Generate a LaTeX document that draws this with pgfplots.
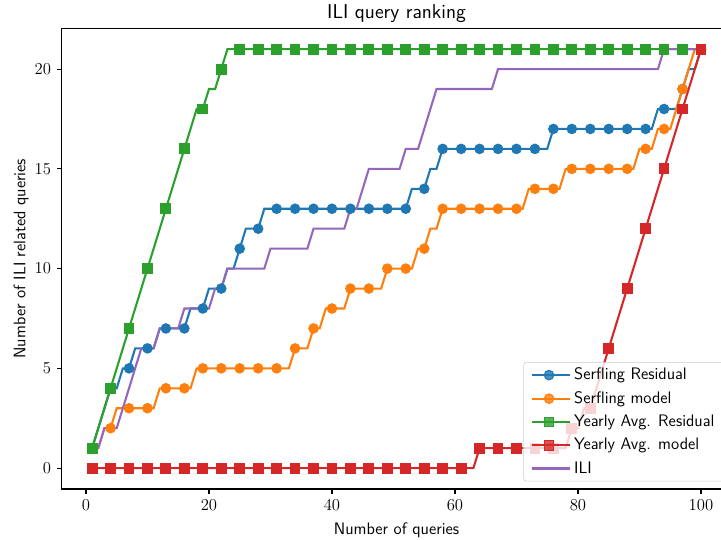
\documentclass[12pt,border=0pt]{standalone}
\usepackage{pgfplots}
\usepackage{pgfplotstable}
\pgfplotsset{compat=1.18}

\definecolor{tabblue}{HTML}{1F77B4}
\definecolor{taborange}{HTML}{FF7F0E}
\definecolor{tabgreen}{HTML}{2CA02C}
\definecolor{tabred}{HTML}{D62728}
\definecolor{tabpurple}{HTML}{9467BD}

% rank, Serfling residual, Serfling model, yearly avg residual, yearly avg model, ILI
\pgfplotstableread{
x sr sm yr ym ili
1 1 1 1 0 1
2 2 1 2 0 1
3 3 2 3 0 2
4 4 2 4 0 2
5 4 3 5 0 2
6 5 3 6 0 3
7 5 3 7 0 4
8 6 3 8 0 5
9 6 3 9 0 6
10 6 3 10 0 6
11 6 3 11 0 6
12 7 4 12 0 7
13 7 4 13 0 7
14 7 4 14 0 7
15 7 4 15 0 7
16 7 4 16 0 8
17 8 4 17 0 8
18 8 5 18 0 8
19 8 5 18 0 8
20 9 5 19 0 8
21 9 5 19 0 9
22 9 5 20 0 9
23 10 5 21 0 10
24 10 5 21 0 10
25 11 5 21 0 10
26 12 5 21 0 10
27 12 5 21 0 10
28 12 5 21 0 10
29 13 5 21 0 10
30 13 5 21 0 11
31 13 5 21 0 11
32 13 5 21 0 11
33 13 5 21 0 11
34 13 6 21 0 11
35 13 6 21 0 11
36 13 6 21 0 11
37 13 7 21 0 12
38 13 7 21 0 12
39 13 8 21 0 12
40 13 8 21 0 12
41 13 8 21 0 12
42 13 8 21 0 12
43 13 9 21 0 13
44 13 9 21 0 13
45 13 9 21 0 14
46 13 9 21 0 15
47 13 9 21 0 15
48 13 9 21 0 15
49 13 10 21 0 15
50 13 10 21 0 15
51 13 10 21 0 15
52 13 10 21 0 16
53 14 10 21 0 16
54 14 11 21 0 16
55 14 11 21 0 17
56 15 12 21 0 18
57 15 12 21 0 19
58 16 13 21 0 19
59 16 13 21 0 19
60 16 13 21 0 19
61 16 13 21 0 19
62 16 13 21 0 19
63 16 13 21 0 19
64 16 13 21 1 19
65 16 13 21 1 19
66 16 13 21 1 19
67 16 13 21 1 20
68 16 13 21 1 20
69 16 13 21 1 20
70 16 13 21 1 20
71 16 13 21 1 20
72 16 14 21 1 20
73 16 14 21 1 20
74 16 14 21 1 20
75 16 14 21 1 20
76 17 14 21 1 20
77 17 14 21 1 20
78 17 15 21 1 20
79 17 15 21 2 20
80 17 15 21 2 20
81 17 15 21 3 20
82 17 15 21 3 20
83 17 15 21 4 20
84 17 15 21 5 20
85 17 15 21 6 20
86 17 15 21 7 20
87 17 15 21 8 20
88 17 15 21 9 20
89 17 15 21 10 20
90 17 16 21 11 20
91 17 16 21 12 20
92 17 16 21 13 20
93 18 17 21 14 20
94 18 17 21 15 21
95 18 17 21 16 21
96 18 18 21 17 21
97 19 19 21 18 21
98 20 20 21 19 21
99 20 21 21 20 21
100 21 21 21 21 21
}\ranking

\begin{document}
\begin{tikzpicture}
\begin{axis}[
    scale only axis,
    width=482.2pt, height=331.8pt,
    xmin=-3.95, xmax=104.95,
    ymin=-1.05, ymax=22.05,
    xtick={0,20,...,100},
    ytick={0,5,...,20},
    tick align=outside,
    tick pos=left,
    major tick length=3.5pt,
    tick style={black, line width=0.8pt},
    axis line style={line width=0.8pt},
    title={\sffamily\large ILI query ranking},
    title style={yshift=-6pt},
    xlabel={\sffamily Number of queries},
    ylabel={\sffamily Number of ILI related queries},
    xlabel style={yshift=-1pt},
    ylabel style={yshift=-3.8pt},
    legend cell align=left,
    legend style={at={(1,0)}, anchor=south east, xshift=-5pt, yshift=5.5pt,
        font=\sffamily, draw=black!20, rounded corners=2pt,
        fill=white, fill opacity=0.8, text opacity=1, row sep=2.6pt,
        inner xsep=5pt, inner ysep=2pt},
    legend image code/.code={
        \path (0cm,0cm) -- (0.98cm,0cm);
        \draw[mark repeat=2, mark phase=2] plot coordinates {(0cm,0cm) (0.44cm,0cm) (0.88cm,0cm)};
    },
    every axis plot/.append style={line width=1.5pt, mark repeat=3, mark phase=1},
]
\addplot[tabblue, mark=*, mark size=3.4pt, mark options={line width=0.8pt}] table[x=x, y=sr] {\ranking};
\addlegendentry{Serfling Residual}
\addplot[taborange, mark=*, mark size=3.4pt, mark options={line width=0.8pt}] table[x=x, y=sm] {\ranking};
\addlegendentry{Serfling model}
\addplot[tabgreen, mark=square*, mark size=3.5pt, mark options={line width=0.8pt}] table[x=x, y=yr] {\ranking};
\addlegendentry{Yearly Avg. Residual}
\addplot[tabred, mark=square*, mark size=3.5pt, mark options={line width=0.8pt}] table[x=x, y=ym] {\ranking};
\addlegendentry{Yearly Avg. model}
\addplot[tabpurple, no marks] table[x=x, y=ili] {\ranking};
\addlegendentry{ILI}
\end{axis}
\pgfresetboundingbox
\path[use as bounding box] ([xshift=-44.4pt, yshift=-36pt]current axis.south west)
    rectangle ([xshift=474.7pt, yshift=20.3pt]current axis.north west);
\end{tikzpicture}
\end{document}
